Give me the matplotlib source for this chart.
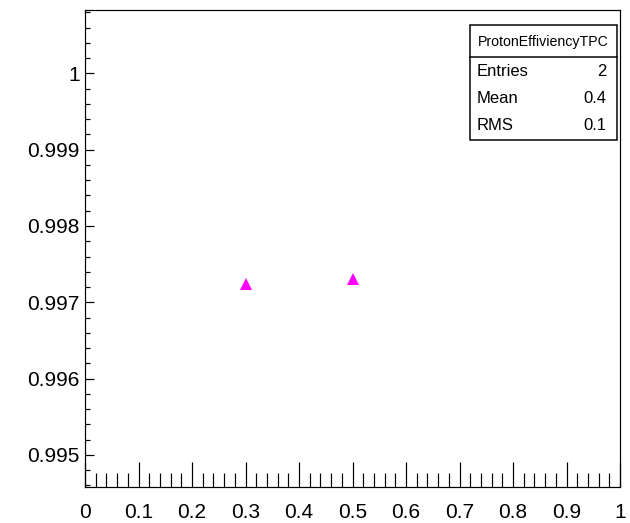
import numpy as np
import matplotlib.pyplot as plt
from matplotlib.patches import Rectangle
from matplotlib.ticker import MultipleLocator

plt.rcParams['font.family'] = ['Liberation Sans', 'DejaVu Sans']

# efficiency points
x_vals = [0.3, 0.5]
eff_vals = [0.997245, 0.997305]

# stats box
hist_name = "ProtonEffiviencyTPC"
stat_names = ["Entries", "Mean", "RMS"]
stat_values = ["2", "0.4", "0.1"]

W, H = 630, 523
PT = 0.72  # points per pixel at dpi 100
fig = plt.figure(figsize=(W / 100, H / 100), dpi=100)

# frame in pixels: left, right, top, bottom
L, R, T, B = 85, 620, 10, 487
ax = fig.add_axes([L / W, (H - B) / H, (R - L) / W, (B - T) / H])

ax.plot(x_vals, eff_vals, linestyle='none', marker='^', color='#ff00ff',
        markersize=9, markeredgewidth=0)

ax.set_xlim(0, 1)
ax.set_ylim(0.99458, 1.00083)

ax.xaxis.set_major_locator(MultipleLocator(0.1))
ax.xaxis.set_minor_locator(MultipleLocator(0.02))
ax.yaxis.set_major_locator(MultipleLocator(0.001))
ax.yaxis.set_minor_locator(MultipleLocator(0.0002))
ax.xaxis.set_major_formatter(plt.FuncFormatter(lambda v, p: f"{v:g}"))
ax.yaxis.set_major_formatter(plt.FuncFormatter(lambda v, p: f"{round(v, 3):g}"))

ax.tick_params(axis='both', which='both', direction='in', top=False, right=False,
               labelsize=15, width=1.2 * PT, color='black')
ax.tick_params(axis='x', which='major', length=25 * PT, pad=16 * PT)
ax.tick_params(axis='x', which='minor', length=14 * PT)
ax.tick_params(axis='y', which='major', length=9 * PT, pad=5 * PT)
ax.tick_params(axis='y', which='minor', length=5 * PT)
for s in ax.spines.values():
    s.set_linewidth(1.2 * PT)

# stats box drawn in figure pixel coordinates
bx0, bx1, by0, by1, ydiv = 470, 617, 25, 140, 57
def fx(px):
    return px / W
def fy(py):
    return 1 - py / H

fig.patches.append(Rectangle((fx(bx0), fy(by1)), fx(bx1) - fx(bx0), fy(by0) - fy(by1),
                             transform=fig.transFigure, facecolor='white',
                             edgecolor='black', linewidth=1.5 * PT, zorder=5))
fig.add_artist(plt.Line2D([fx(bx0), fx(bx1)], [fy(ydiv), fy(ydiv)],
                          transform=fig.transFigure, color='black',
                          linewidth=1.5 * PT, zorder=6))
fig.text(fx((bx0 + bx1) / 2), fy(42), hist_name, ha='center', va='center',
         fontsize=10.2, zorder=7)
for i, (name, val) in enumerate(zip(stat_names, stat_values)):
    yy = fy(71 + 27.5 * i)
    fig.text(fx(477), yy, name, ha='left', va='center', fontsize=12, zorder=7)
    fig.text(fx(606.5), yy, val, ha='right', va='center', fontsize=12, zorder=7)

fig.savefig("out.png", dpi=100)
